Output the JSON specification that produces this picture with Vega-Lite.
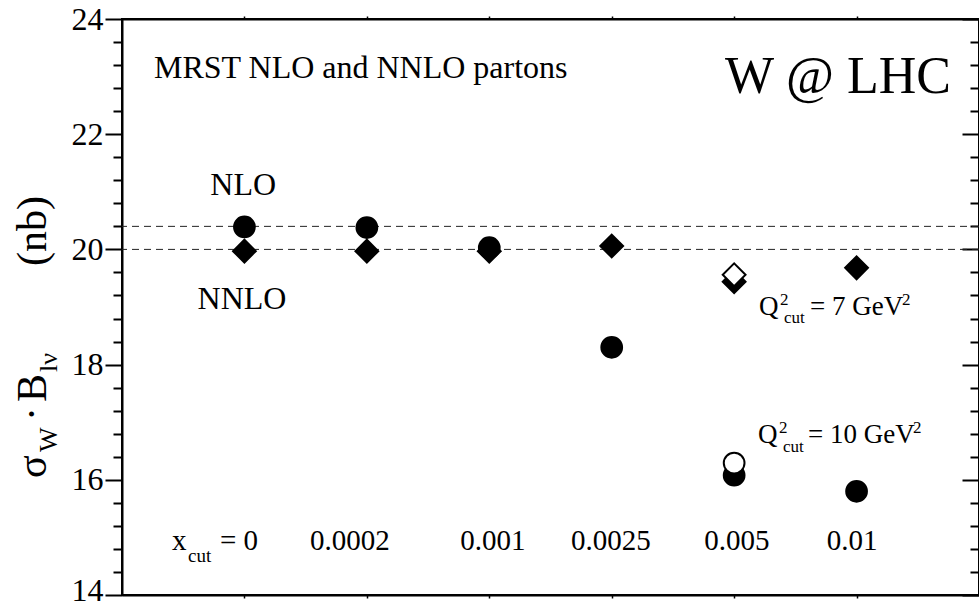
{
  "$schema": "https://vega.github.io/schema/vega-lite/v6.json",
  "width": 857,
  "height": 576,
  "autosize": {"type": "none"},
  "padding": {"left": 122, "top": 19, "right": 0, "bottom": 15},
  "background": "white",
  "config": {
    "view": {"stroke": "black", "strokeWidth": 2},
    "font": "Liberation Serif, Times New Roman, DejaVu Serif, serif",
    "text": {"font": "Liberation Serif, Times New Roman, DejaVu Serif, serif"},
    "axis": {
      "grid": false,
      "domainColor": "black",
      "domainWidth": 2,
      "tickColor": "black",
      "tickWidth": 2,
      "labelFont": "Liberation Serif, Times New Roman, DejaVu Serif, serif",
      "labelColor": "black",
      "labelFontSize": 32
    }
  },
  "datasets": {
    "points": [
      {"xcut": "0", "pos": 1, "order": "NLO", "cut": "none", "sigma": 20.39},
      {"xcut": "0.0002", "pos": 2, "order": "NLO", "cut": "none", "sigma": 20.38},
      {"xcut": "0.001", "pos": 3, "order": "NLO", "cut": "none", "sigma": 20.03},
      {"xcut": "0.0025", "pos": 4, "order": "NLO", "cut": "none", "sigma": 18.30},
      {"xcut": "0.005", "pos": 5, "order": "NLO", "cut": "7", "sigma": 16.08},
      {"xcut": "0.01", "pos": 6, "order": "NLO", "cut": "none", "sigma": 15.80},
      {"xcut": "0.005", "pos": 5, "order": "NLO", "cut": "10", "sigma": 16.29},
      {"xcut": "0", "pos": 1, "order": "NNLO", "cut": "none", "sigma": 19.97},
      {"xcut": "0.0002", "pos": 2, "order": "NNLO", "cut": "none", "sigma": 19.97},
      {"xcut": "0.001", "pos": 3, "order": "NNLO", "cut": "none", "sigma": 19.97},
      {"xcut": "0.0025", "pos": 4, "order": "NNLO", "cut": "none", "sigma": 20.06},
      {"xcut": "0.005", "pos": 5, "order": "NNLO", "cut": "7", "sigma": 19.44},
      {"xcut": "0.01", "pos": 6, "order": "NNLO", "cut": "none", "sigma": 19.68},
      {"xcut": "0.005", "pos": 5, "order": "NNLO", "cut": "10", "sigma": 19.56}
    ],
    "refs": [{"ref": 20.4}, {"ref": 20.0}],
    "bigLeft": [{"t": "MRST NLO and NNLO partons", "x": 0.261, "y": 22.976}],
    "bigCenter": [
      {"t": "NLO", "x": 0.99, "y": 20.944},
      {"t": "NNLO", "x": 0.98, "y": 18.965}
    ],
    "title": [{"t": "W @ LHC", "x": 4.925, "y": 22.715}],
    "qMain": [
      {"t": "Q", "x": 5.203, "y": 18.861},
      {"t": "= 7 GeV", "x": 5.62, "y": 18.861},
      {"t": "Q", "x": 5.195, "y": 16.639},
      {"t": "= 10 GeV", "x": 5.603, "y": 16.639}
    ],
    "qSmall": [
      {"t": "2", "x": 5.375, "y": 19.035},
      {"t": "cut", "x": 5.407, "y": 18.722},
      {"t": "2", "x": 6.371, "y": 19.035},
      {"t": "2", "x": 5.366, "y": 16.813},
      {"t": "cut", "x": 5.399, "y": 16.483},
      {"t": "2", "x": 6.461, "y": 16.813}
    ],
    "xLabels": [
      {"t": "0.0002", "x": 1.862, "y": 14.78},
      {"t": "0.001", "x": 3.03, "y": 14.78},
      {"t": "0.0025", "x": 3.994, "y": 14.78},
      {"t": "0.005", "x": 5.023, "y": 14.78},
      {"t": "0.01", "x": 5.963, "y": 14.78}
    ],
    "xcutMain": [
      {"t": "x", "x": 0.408, "y": 14.78},
      {"t": "= 0", "x": 0.8, "y": 14.78}
    ],
    "xcutSub": [{"t": "cut", "x": 0.539, "y": 14.578}],
    "yTitleMain": [
      {"t": "σ", "x": -0.621, "y": 16.031},
      {"t": "·", "x": -0.621, "y": 17.021},
      {"t": "B", "x": -0.621, "y": 17.351},
      {"t": "(nb)", "x": -0.621, "y": 19.712}
    ],
    "yTitleSub": [
      {"t": "W", "x": -0.53, "y": 16.483},
      {"t": "lν", "x": -0.53, "y": 17.872}
    ]
  },
  "resolve": {"axis": {"x": "independent", "y": "independent"}},
  "layer": [
    {
      "data": {"name": "refs"},
      "mark": {"type": "rule", "stroke": "#222222", "strokeWidth": 1, "strokeDash": [7, 5]},
      "encoding": {
        "y": {
          "field": "ref", "type": "quantitative",
          "scale": {"domain": [14, 24], "nice": false, "zero": false},
          "axis": {
            "orient": "left", "title": null,
            "values": [14, 14.4, 14.8, 15.2, 15.6, 16, 16.4, 16.8, 17.2, 17.6, 18, 18.4, 18.8, 19.2, 19.6, 20, 20.4, 20.8, 21.2, 21.6, 22, 22.4, 22.8, 23.2, 23.6, 24],
            "tickSize": {"condition": {"test": "abs(datum.value/2 - round(datum.value/2)) < 0.01", "value": 17}, "value": 9},
            "labelExpr": "abs(datum.value/2 - round(datum.value/2)) < 0.01 ? '' + round(datum.value) : ''",
            "labelOffset": {"condition": {"test": "datum.value < 14.1", "value": -5}, "value": 0},
            "labelPadding": 2,
            "labelOverlap": false,
            "labelFlush": false,
            "labelBound": false
          }
        }
      }
    },
    {
      "data": {"name": "points"},
      "transform": [{"filter": "datum.order === 'NNLO'"}],
      "mark": {"type": "point", "shape": "diamond", "size": 520, "stroke": "black", "strokeWidth": 2, "opacity": 1},
      "encoding": {
        "x": {
          "field": "pos", "type": "quantitative",
          "scale": {"domain": [0, 7], "nice": false, "zero": false},
          "axis": {"orient": "bottom", "title": null, "values": [1, 2, 3, 4, 5, 6], "labels": false, "tickSize": 3, "tickWidth": 1.5}
        },
        "y": {
          "field": "sigma", "type": "quantitative",
          "scale": {"domain": [14, 24], "nice": false, "zero": false},
          "axis": {
            "orient": "right", "title": null, "labels": false,
            "values": [14, 14.4, 14.8, 15.2, 15.6, 16, 16.4, 16.8, 17.2, 17.6, 18, 18.4, 18.8, 19.2, 19.6, 20, 20.4, 20.8, 21.2, 21.6, 22, 22.4, 22.8, 23.2, 23.6, 24],
            "tickSize": {"condition": {"test": "abs(datum.value/2 - round(datum.value/2)) < 0.01", "value": -17}, "value": -9}
          }
        },
        "fill": {"field": "cut", "type": "nominal", "scale": {"domain": ["none", "7", "10"], "range": ["black", "black", "white"]}, "legend": null}
      }
    },
    {
      "data": {"name": "points"},
      "transform": [{"filter": "datum.order === 'NLO'"}],
      "mark": {"type": "point", "shape": "circle", "size": 430, "stroke": "black", "strokeWidth": 2, "opacity": 1},
      "encoding": {
        "x": {
          "field": "pos", "type": "quantitative",
          "scale": {"domain": [0, 7], "nice": false, "zero": false},
          "axis": {"orient": "top", "title": null, "values": [1, 2, 3, 4, 5, 6], "labels": false, "tickSize": 3, "tickWidth": 1.5}
        },
        "y": {"field": "sigma", "type": "quantitative", "scale": {"domain": [14, 24], "nice": false, "zero": false}, "axis": null},
        "fill": {"field": "cut", "type": "nominal", "scale": {"domain": ["none", "7", "10"], "range": ["black", "black", "white"]}, "legend": null}
      }
    },
    {
      "data": {"name": "bigLeft"},
      "mark": {"type": "text", "fontSize": 32, "align": "left", "baseline": "alphabetic", "color": "black"},
      "encoding": {
        "x": {"field": "x", "type": "quantitative", "scale": {"domain": [0, 7], "nice": false, "zero": false}, "axis": null},
        "y": {"field": "y", "type": "quantitative", "scale": {"domain": [14, 24], "nice": false, "zero": false}, "axis": null},
        "text": {"field": "t"}
      }
    },
    {
      "data": {"name": "bigCenter"},
      "mark": {"type": "text", "fontSize": 32, "align": "center", "baseline": "alphabetic", "color": "black"},
      "encoding": {
        "x": {"field": "x", "type": "quantitative", "scale": {"domain": [0, 7], "nice": false, "zero": false}, "axis": null},
        "y": {"field": "y", "type": "quantitative", "scale": {"domain": [14, 24], "nice": false, "zero": false}, "axis": null},
        "text": {"field": "t"}
      }
    },
    {
      "data": {"name": "title"},
      "mark": {"type": "text", "fontSize": 52, "align": "left", "baseline": "alphabetic", "color": "black"},
      "encoding": {
        "x": {"field": "x", "type": "quantitative", "scale": {"domain": [0, 7], "nice": false, "zero": false}, "axis": null},
        "y": {"field": "y", "type": "quantitative", "scale": {"domain": [14, 24], "nice": false, "zero": false}, "axis": null},
        "text": {"field": "t"}
      }
    },
    {
      "data": {"name": "qMain"},
      "mark": {"type": "text", "fontSize": 27, "align": "left", "baseline": "alphabetic", "color": "black"},
      "encoding": {
        "x": {"field": "x", "type": "quantitative", "scale": {"domain": [0, 7], "nice": false, "zero": false}, "axis": null},
        "y": {"field": "y", "type": "quantitative", "scale": {"domain": [14, 24], "nice": false, "zero": false}, "axis": null},
        "text": {"field": "t"}
      }
    },
    {
      "data": {"name": "qSmall"},
      "mark": {"type": "text", "fontSize": 17, "align": "left", "baseline": "alphabetic", "color": "black"},
      "encoding": {
        "x": {"field": "x", "type": "quantitative", "scale": {"domain": [0, 7], "nice": false, "zero": false}, "axis": null},
        "y": {"field": "y", "type": "quantitative", "scale": {"domain": [14, 24], "nice": false, "zero": false}, "axis": null},
        "text": {"field": "t"}
      }
    },
    {
      "data": {"name": "xLabels"},
      "mark": {"type": "text", "fontSize": 29, "align": "center", "baseline": "alphabetic", "color": "black"},
      "encoding": {
        "x": {"field": "x", "type": "quantitative", "scale": {"domain": [0, 7], "nice": false, "zero": false}, "axis": null},
        "y": {"field": "y", "type": "quantitative", "scale": {"domain": [14, 24], "nice": false, "zero": false}, "axis": null},
        "text": {"field": "t"}
      }
    },
    {
      "data": {"name": "xcutMain"},
      "mark": {"type": "text", "fontSize": 29, "align": "left", "baseline": "alphabetic", "color": "black"},
      "encoding": {
        "x": {"field": "x", "type": "quantitative", "scale": {"domain": [0, 7], "nice": false, "zero": false}, "axis": null},
        "y": {"field": "y", "type": "quantitative", "scale": {"domain": [14, 24], "nice": false, "zero": false}, "axis": null},
        "text": {"field": "t"}
      }
    },
    {
      "data": {"name": "xcutSub"},
      "mark": {"type": "text", "fontSize": 19, "align": "left", "baseline": "alphabetic", "color": "black"},
      "encoding": {
        "x": {"field": "x", "type": "quantitative", "scale": {"domain": [0, 7], "nice": false, "zero": false}, "axis": null},
        "y": {"field": "y", "type": "quantitative", "scale": {"domain": [14, 24], "nice": false, "zero": false}, "axis": null},
        "text": {"field": "t"}
      }
    },
    {
      "data": {"name": "yTitleMain"},
      "mark": {"type": "text", "fontSize": 42, "angle": 270, "align": "left", "baseline": "alphabetic", "color": "black"},
      "encoding": {
        "x": {"field": "x", "type": "quantitative", "scale": {"domain": [0, 7], "nice": false, "zero": false}, "axis": null},
        "y": {"field": "y", "type": "quantitative", "scale": {"domain": [14, 24], "nice": false, "zero": false}, "axis": null},
        "text": {"field": "t"}
      }
    },
    {
      "data": {"name": "yTitleSub"},
      "mark": {"type": "text", "fontSize": 26, "angle": 270, "align": "left", "baseline": "alphabetic", "color": "black"},
      "encoding": {
        "x": {"field": "x", "type": "quantitative", "scale": {"domain": [0, 7], "nice": false, "zero": false}, "axis": null},
        "y": {"field": "y", "type": "quantitative", "scale": {"domain": [14, 24], "nice": false, "zero": false}, "axis": null},
        "text": {"field": "t"}
      }
    }
  ]
}
